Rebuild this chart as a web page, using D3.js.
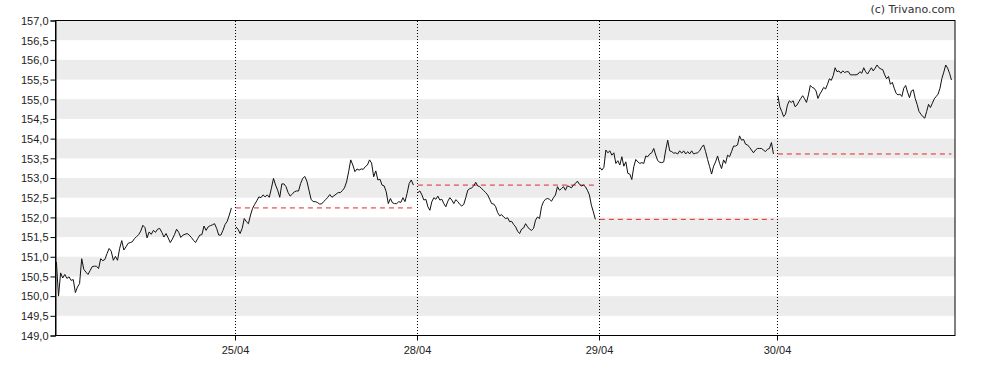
<!DOCTYPE html>
<html>
<head>
<meta charset="utf-8">
<script src="https://cdn.jsdelivr.net/npm/d3@7"></script>
<style>
  body { margin: 0; background: #fff; }
  svg { display: block; font-family: "DejaVu Sans", Verdana, sans-serif; }
  .axis text { font-size: 11px; fill: #222; }
  .axis path, .axis line { stroke: #000; }
</style>
</head>
<body>
<svg id="chart"></svg>
<script>
// ── DATA ──────────────────────────────────────────────────────────────────
const dayLabels = ["24/04", "25/04", "28/04", "29/04", "30/04"];

const day1 = [150.87,150.00,150.59,150.46,150.55,150.45,150.49,150.40,150.42,150.09,150.23,150.32,150.95,150.68,150.61,150.55,150.65,150.75,150.76,150.76,150.70,150.95,150.90,150.93,151.08,151.21,151.14,150.91,151.01,150.91,151.21,151.41,151.17,151.25,151.34,151.36,151.38,151.46,151.51,151.56,151.65,151.80,151.74,151.48,151.63,151.57,151.67,151.62,151.70,151.72,151.62,151.50,151.59,151.48,151.36,151.45,151.56,151.70,151.62,151.49,151.55,151.57,151.59,151.55,151.49,151.42,151.36,151.46,151.55,151.56,151.78,151.67,151.76,151.79,151.81,151.84,151.72,151.55,151.55,151.67,151.82,151.90,152.06,152.24];

const day2 = [151.76,151.70,151.59,151.72,151.97,151.89,151.84,152.06,152.23,152.33,152.42,152.52,152.50,152.57,152.52,152.57,152.51,152.74,152.99,152.82,152.69,152.51,152.85,152.85,152.78,152.63,152.54,152.59,152.65,152.67,152.67,152.86,152.99,153.04,152.92,152.69,152.46,152.40,152.40,152.38,152.34,152.34,152.40,152.45,152.51,152.58,152.51,152.55,152.59,152.63,152.63,152.68,152.75,152.90,153.16,153.46,153.33,153.16,153.23,153.20,153.23,153.22,153.29,153.33,153.46,153.38,153.03,153.18,152.95,152.97,152.82,152.80,152.65,152.35,152.48,152.37,152.35,152.35,152.40,152.38,152.50,152.40,152.61,152.86,152.95,152.82];

const day3 = [152.63,152.67,152.57,152.44,152.46,152.27,152.18,152.40,152.50,152.46,152.54,152.44,152.46,152.35,152.27,152.41,152.50,152.44,152.35,152.45,152.40,152.33,152.29,152.33,152.50,152.69,152.73,152.75,152.80,152.89,152.80,152.78,152.73,152.68,152.63,152.57,152.46,152.35,152.34,152.27,152.12,152.04,152.07,152.01,151.97,151.99,151.89,151.90,151.82,151.76,151.65,151.59,151.70,151.73,151.84,151.76,151.70,151.67,151.72,151.93,152.01,151.97,152.27,152.40,152.46,152.48,152.46,152.41,152.50,152.57,152.78,152.69,152.73,152.78,152.69,152.80,152.78,152.75,152.82,152.86,152.92,152.84,152.80,152.82,152.78,152.69,152.57,152.31,152.14,151.95];

const day4 = [153.27,153.20,153.27,153.71,153.64,153.69,153.58,153.64,153.37,153.44,153.33,153.54,153.30,153.41,153.12,153.10,152.96,153.29,153.47,153.41,153.37,153.39,153.37,153.56,153.54,153.61,153.64,153.75,153.58,153.44,153.40,153.39,153.41,153.71,153.96,153.69,153.67,153.63,153.64,153.61,153.69,153.63,153.69,153.61,153.67,153.61,153.69,153.61,153.63,153.64,153.69,153.78,153.84,153.67,153.47,153.29,153.10,153.30,153.41,153.56,153.37,153.24,153.46,153.37,153.58,153.54,153.67,153.81,153.81,153.84,154.07,153.96,153.98,153.86,153.84,153.78,153.71,153.64,153.71,153.75,153.75,153.75,153.71,153.67,153.73,153.75,153.90,153.61];

const day5 = [155.09,154.81,154.69,154.56,154.62,154.85,154.96,154.92,154.96,154.81,154.85,154.94,155.02,155.09,155.01,154.92,155.11,155.35,155.30,155.28,155.21,155.02,155.13,155.21,155.30,155.26,155.38,155.52,155.48,155.60,155.80,155.70,155.72,155.66,155.72,155.68,155.70,155.70,155.62,155.62,155.62,155.62,155.64,155.70,155.66,155.80,155.70,155.64,155.72,155.80,155.72,155.79,155.87,155.80,155.77,155.75,155.62,155.52,155.58,155.38,155.43,155.28,155.15,155.11,155.13,155.07,155.28,155.35,155.18,155.04,155.21,155.24,155.02,154.87,154.69,154.62,154.56,154.52,154.69,154.87,154.79,154.90,155.01,155.07,155.13,155.28,155.53,155.69,155.87,155.79,155.66,155.49];

const days = [day1, day2, day3, day4, day5];
const yTicks = d3.range(149, 157.01, 0.5);

// ── DIMENSI ───────────────────────────────────────────────────────────────
const W = 988, H = 370;
const margin = { top: 20.5, right: 33, bottom: 34.5, left: 55.5 };
const innerW = W - margin.left - margin.right;
const innerH = H - margin.top - margin.bottom;

const svg = d3.select("#chart")
  .attr("width", W)
  .attr("height", H)
  .attr("viewBox", `0 0 ${W} ${H}`);

const g = svg.append("g")
  .attr("transform", `translate(${margin.left},${margin.top})`);

// ── SKALA ─────────────────────────────────────────────────────────────────
// satu sesi = satu unit; sesi tidak persis sama lebar di grafik asli
const xScale = d3.scaleLinear()
  .domain([0, 1, 2, 3, 4, 5])
  .range([0, 179.5, 361.5, 543.5, 721.5, innerW]);

const yScale = d3.scaleLinear()
  .domain([149, 157])
  .range([innerH, 0]);

const fmt = d3.formatLocale({ decimal: ",", thousands: ".", grouping: [3], currency: ["", "€"] }).format(".1f");

// ── BAND ABU-ABU ──────────────────────────────────────────────────────────
g.selectAll(".band")
  .data(d3.range(149, 157))
  .join("rect")
    .attr("class", "band")
    .attr("x", 0)
    .attr("width", innerW)
    .attr("y", d => yScale(d + 1))
    .attr("height", d => yScale(d + 0.5) - yScale(d + 1))
    .attr("fill", "#ececec");

// ── GARIS PEMISAH HARI ────────────────────────────────────────────────────
g.selectAll(".day-sep")
  .data([1, 2, 3, 4])
  .join("line")
    .attr("class", "day-sep")
    .attr("x1", d => Math.round(xScale(d)))
    .attr("x2", d => Math.round(xScale(d)))
    .attr("y1", 0.5)
    .attr("y2", innerH)
    .attr("stroke", "#000")
    .attr("stroke-dasharray", "1,2");

// ── AXIS ──────────────────────────────────────────────────────────────────
g.append("g")
  .attr("class", "axis")
  .call(d3.axisLeft(yScale).tickValues(yTicks).tickSize(5).tickPadding(2).tickFormat(fmt))
  .call(ax => ax.selectAll(".tick text").attr("dy", "0.35em"));

g.append("g")
  .attr("class", "axis")
  .attr("transform", `translate(0,${innerH})`)
  .call(d3.axisBottom(xScale)
    .tickValues([1, 2, 3, 4])
    .tickSize(5)
    .tickPadding(6)
    .tickFormat(d => dayLabels[d]))
  .call(ax => ax.select(".domain").remove());

// bingkai
g.append("rect")
  .attr("x", 0).attr("y", 0)
  .attr("width", innerW).attr("height", innerH)
  .attr("fill", "none")
  .attr("stroke", "#000");

// ── PENUTUPAN SEBELUMNYA (garis putus merah) ─────────────────────────────
const xPos = (dayIdx, k, n) => xScale(dayIdx + 0.005 + 0.975 * k / (n - 1));

const prevClose = days.slice(1).map((arr, i) => ({
  day: i + 1,
  n: arr.length,
  value: days[i][days[i].length - 1]
}));

g.selectAll(".prev")
  .data(prevClose)
  .join("line")
    .attr("class", "prev")
    .attr("x1", d => xPos(d.day, 0, d.n))
    .attr("x2", d => xPos(d.day, d.n - 1, d.n))
    .attr("y1", d => yScale(d.value))
    .attr("y2", d => yScale(d.value))
    .attr("stroke", "#e3262b")
    .attr("stroke-dasharray", "5,4");

// ── GARIS HARGA ───────────────────────────────────────────────────────────
const line = d3.line()
  .x(d => d.x)
  .y(d => yScale(d.v));

g.selectAll(".price")
  .data(days.map((arr, i) => arr.map((v, k) => ({ x: xPos(i, k, arr.length), v }))))
  .join("path")
    .attr("class", "price")
    .attr("d", line)
    .attr("fill", "none")
    .attr("stroke", "#111")
    .attr("stroke-width", 1)
    .attr("stroke-linejoin", "round");

// ── COPYRIGHT ─────────────────────────────────────────────────────────────
svg.append("text")
  .attr("x", margin.left + innerW)
  .attr("y", 13)
  .attr("text-anchor", "end")
  .style("font-size", "11px")
  .style("fill", "#333")
  .text("(c) Trivano.com");
</script>
</body>
</html>
